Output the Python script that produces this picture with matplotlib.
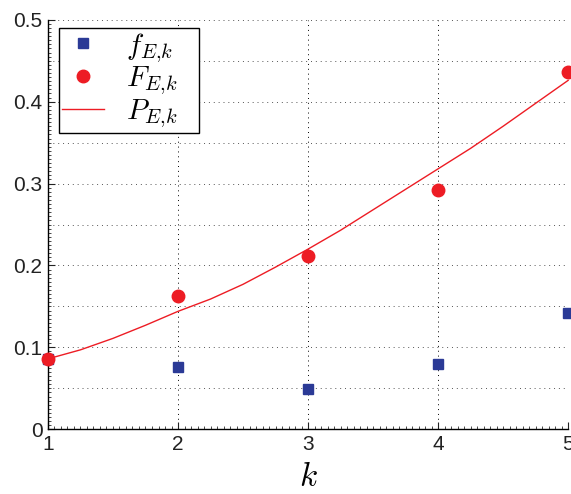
import matplotlib
matplotlib.use("Agg")
import matplotlib.pyplot as plt
from matplotlib.ticker import MultipleLocator

plt.rcParams['font.family'] = ['Liberation Sans', 'DejaVu Sans']
plt.rcParams['mathtext.fontset'] = 'cm'

# data
k = [1, 2, 3, 4, 5]
f_ek = [0.086, 0.0755, 0.049, 0.0797, 0.142]
F_ek = [0.086, 0.163, 0.212, 0.292, 0.436]

# fitted curve P_E,k
k_curve = [1.0, 1.25, 1.5, 1.75, 2.0, 2.25, 2.5, 2.75, 3.0,
           3.25, 3.5, 3.75, 4.0, 4.25, 4.5, 4.75, 5.0]
P_ek = [0.086, 0.097, 0.111, 0.127, 0.144, 0.159, 0.177, 0.198, 0.220,
        0.243, 0.268, 0.293, 0.318, 0.343, 0.370, 0.398, 0.426]

y_ticks = [0, 0.1, 0.2, 0.3, 0.4, 0.5]
y_labels = ['0', '0.1', '0.2', '0.3', '0.4', '0.5']

blue = '#2b3a96'
red = '#ed1c24'

fig = plt.figure(figsize=(5.71, 4.94), dpi=100)
ax = fig.add_axes([0.084, 0.131, 0.911, 0.829])

ax.plot(k, f_ek, linestyle='none', marker='s', markersize=7, color=blue,
        label=r'$f_{E{,}k}$   ', clip_on=False, zorder=3)
ax.plot(k, F_ek, linestyle='none', marker='o', markersize=9, color=red,
        label=r'$F_{E{,}k}$   ', clip_on=False, zorder=4)
ax.plot(k_curve, P_ek, color=red, linewidth=1.0, label=r'$P_{E{,}k}$   ',
        clip_on=False, zorder=2)

ax.set_xlim(1, 5)
ax.set_ylim(0, 0.5)
ax.set_xticks(k)
ax.set_xticklabels([str(v) for v in k])
ax.set_yticks(y_ticks)
ax.set_yticklabels(y_labels)
ax.xaxis.set_minor_locator(MultipleLocator(0.05))
ax.yaxis.set_minor_locator(MultipleLocator(0.005))

#grid: verticals at integers, horizontals every 0.05
ax.grid(False)
for xv in k:
    ax.axvline(xv, color='black', linestyle=(0, (1, 4)), linewidth=0.7, zorder=0)
yv = 0.05
while yv < 0.51:
    ax.axhline(yv, color='#555555', linestyle=(0, (1, 4)), linewidth=0.7, zorder=0)
    yv += 0.05

ax.spines['top'].set_visible(False)
ax.spines['right'].set_visible(False)
ax.spines['left'].set_linewidth(1.0)
ax.spines['bottom'].set_linewidth(1.0)
ax.tick_params(which='major', direction='in', length=5, width=0.8,
               labelsize=15, colors='#222222', pad=4)
ax.tick_params(which='minor', direction='in', length=2, width=0.5)

ax.set_xlabel(r'$k$', fontsize=24, labelpad=6)

leg = ax.legend(loc='upper left', bbox_to_anchor=(0.021, 0.98), numpoints=1,
                fontsize=21, fancybox=False, framealpha=1, edgecolor='black',
                handlelength=1.45, handletextpad=0.75, borderpad=0.1,
                labelspacing=0.0, borderaxespad=0)
leg.get_frame().set_linewidth(1.0)

fig.savefig('out.png', dpi=100)
